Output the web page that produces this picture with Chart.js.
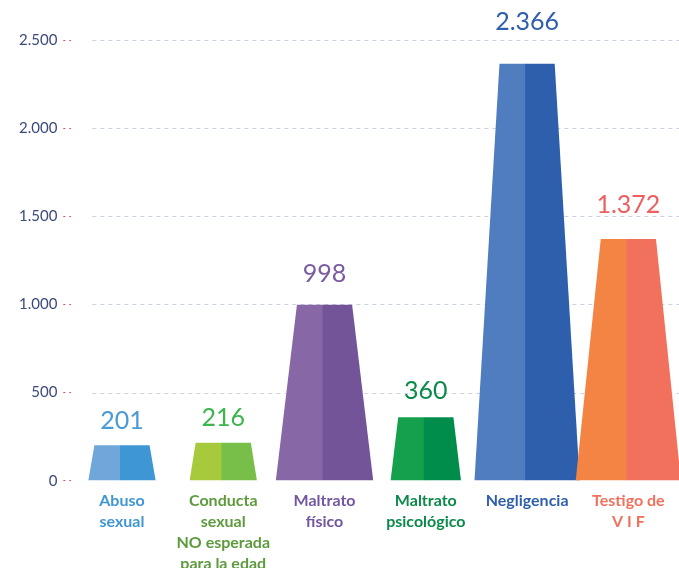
<!DOCTYPE html>
<html>
<head>
<meta charset="utf-8">
<script src="https://cdn.jsdelivr.net/npm/chart.js@4.4.1/dist/chart.umd.min.js"></script>
<style>
  html, body { margin: 0; padding: 0; background: #fff; overflow: hidden; }
  #wrap { position: relative; width: 679px; height: 576px; }
</style>
</head>
<body>
<div id="wrap"><canvas id="chart"></canvas></div>
<script>
// Datos del gráfico
const categories = [
  ["Abuso", "sexual"],
  ["Conducta", "sexual", "NO esperada", "para la edad"],
  ["Maltrato", "físico"],
  ["Maltrato", "psicológico"],
  ["Negligencia"],
  ["Testigo de", "V I F"]
];
const values = [201, 216, 998, 360, 2366, 1372];
const yTicks = [0, 500, 1000, 1500, 2000, 2500];

// Colores: mitad izquierda (clara), mitad derecha (oscura), números y etiquetas
const leftColors  = ["#70a7db", "#a6ca3c", "#8867a6", "#14a04c", "#507cc0", "#f48443"];
const rightColors = ["#3e97d4", "#77bf48", "#735499", "#008c4b", "#2e5fad", "#f2715c"];
const valueColors = ["#4a9ad6", "#3cb54c", "#7a5aa1", "#0b8a4a", "#2e5fad", "#f05f5f"];
const labelColors = ["#3f96d3", "#5c9a3c", "#7356a0", "#0d8a4b", "#2e5fad", "#f2705c"];

// 2500 -> "2.500"
function fmt(n) {
  return String(n).replace(/\B(?=(\d{3})+(?!\d))/g, ".");
}

// Dibuja las líneas punteadas y las barras en forma de trapecio
const trapezoids = {
  id: 'trapezoids',
  beforeDatasetsDraw(chart) {
    const { ctx, chartArea, scales: { y } } = chart;
    ctx.save();
    ctx.strokeStyle = '#c9d3e3';
    ctx.lineWidth = 1;
    ctx.setLineDash([4, 4]);
    yTicks.forEach(v => {
      if (v === 0) return;
      const py = Math.round(y.getPixelForValue(v)) + 0.5;
      ctx.beginPath();
      ctx.moveTo(chartArea.left + 21, py);
      ctx.lineTo(chartArea.right + 10, py);
      ctx.stroke();
    });
    ctx.restore();
  },
  afterDatasetsDraw(chart) {
    const ctx = chart.ctx;
    const meta = chart.getDatasetMeta(0);
    ctx.save();
    meta.data.forEach((bar, i) => {
      const half = bar.width / 2;
      const h = bar.base - bar.y;
      const extra = Math.max(6, Math.min(25, h * 0.12));
      const mid = bar.x - 2;

      ctx.fillStyle = leftColors[i];
      ctx.beginPath();
      ctx.moveTo(bar.x - half, bar.y);
      ctx.lineTo(mid + 0.5, bar.y);
      ctx.lineTo(mid + 0.5, bar.base);
      ctx.lineTo(bar.x - half - extra, bar.base);
      ctx.closePath();
      ctx.fill();

      ctx.fillStyle = rightColors[i];
      ctx.beginPath();
      ctx.moveTo(mid, bar.y);
      ctx.lineTo(bar.x + half, bar.y);
      ctx.lineTo(bar.x + half + extra, bar.base);
      ctx.lineTo(mid, bar.base);
      ctx.closePath();
      ctx.fill();

      ctx.fillStyle = valueColors[i];
      ctx.font = '25px Lato';
      ctx.textAlign = 'center';
      ctx.textBaseline = 'alphabetic';
      ctx.fillText(fmt(values[i]), bar.x, bar.y - (15 + 0.045 * h));
    });
    ctx.restore();
  }
};

new Chart(document.getElementById('chart'), {
  type: 'bar',
  data: {
    labels: categories,
    datasets: [{
      data: values,
      backgroundColor: 'rgba(0,0,0,0)',
      borderWidth: 0,
      barPercentage: 1,
      categoryPercentage: 0.545
    }]
  },
  options: {
    responsive: true,
    maintainAspectRatio: false,
    animation: false,
    layout: { padding: { left: 13, right: 0, top: 40, bottom: 0 } },
    plugins: {
      legend: { display: false },
      tooltip: { enabled: false }
    },
    scales: {
      x: {
        grid: { display: false },
        border: { display: false },
        ticks: {
          color: ctx => labelColors[ctx.index],
          font: { family: 'Lato', size: 16, weight: 'bold', lineHeight: 1.3 },
          padding: 2,
          maxRotation: 0,
          autoSkip: false
        }
      },
      y: {
        min: 0,
        max: 2500,
        afterBuildTicks: axis => { axis.ticks = yTicks.map(v => ({ value: v })); },
        grid: {
          drawOnChartArea: false,
          drawTicks: true,
          tickLength: 8,
          tickColor: '#e0486f',
          tickBorderDash: [2, 4],
          tickWidth: 1
        },
        border: { display: false },
        ticks: {
          color: '#3c4a78',
          font: { family: 'Lato', size: 15 },
          padding: 6,
          callback: v => fmt(v)
        }
      }
    }
  },
  plugins: [trapezoids]
});
</script>
</body>
</html>
